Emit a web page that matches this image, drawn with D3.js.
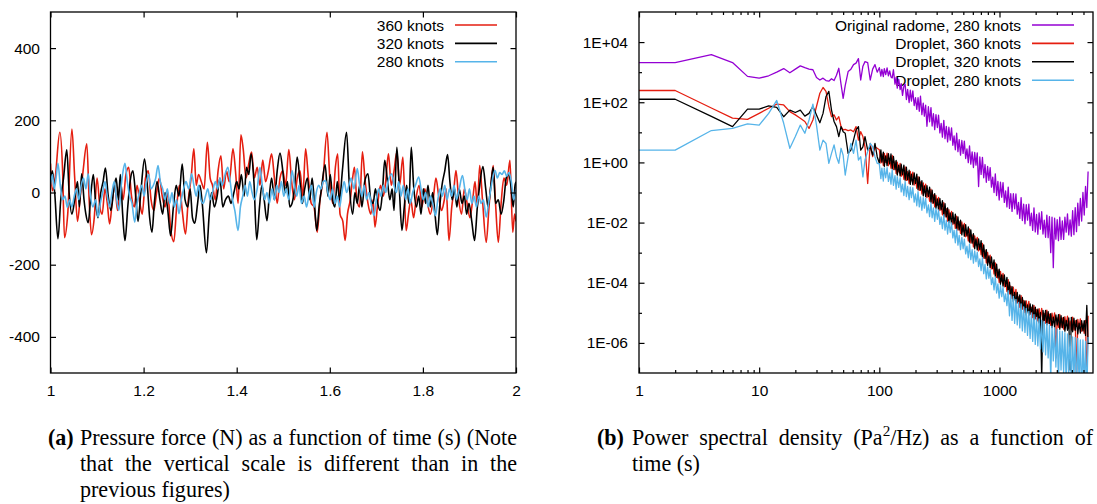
<!DOCTYPE html>
<html>
<head>
<meta charset="utf-8">
<script src="https://cdn.jsdelivr.net/npm/d3@7"></script>
<style>
body { margin: 0; background: #fff; }
svg text { font-family: "Liberation Sans", Arial, sans-serif; }
.tick text { font-size: 15.5px; fill: #000; }
.legend text { font-size: 15.5px; }
svg .cap text { font-family: "Liberation Serif", "Times New Roman", serif; font-size: 22.5px; }
</style>
</head>
<body>
<svg id="fig" width="1097" height="504"></svg>
<script>
// (a) pressure force vs time, [t (s), force (N)]
const force360 = [[1.000,80],[1.004,5],[1.010,40],[1.020,167],[1.026,60],[1.030,-125],[1.037,-60],[1.046,176],[1.052,40],[1.058,-80],[1.064,-10],[1.070,60],[1.078,135],[1.083,-20],[1.088,-117],[1.094,-70],[1.100,40],[1.106,-40],[1.111,-60],[1.117,10],[1.122,-30],[1.127,-87],[1.133,-20],[1.138,20],[1.144,-50],[1.150,30],[1.156,-20],[1.162,50],[1.168,70],[1.174,-10],[1.180,-40],[1.186,20],[1.192,-30],[1.197,-60],[1.204,40],[1.210,60],[1.216,-20],[1.222,-50],[1.228,0],[1.234,40],[1.240,-10],[1.246,-40],[1.252,0],[1.258,-100],[1.265,-136],[1.271,-40],[1.277,20],[1.283,-50],[1.290,-115],[1.296,-20],[1.302,40],[1.308,121],[1.313,20],[1.318,50],[1.324,30],[1.330,10],[1.337,139],[1.343,40],[1.348,20],[1.354,-20],[1.360,60],[1.366,102],[1.372,10],[1.378,60],[1.384,30],[1.392,121],[1.398,50],[1.403,-30],[1.409,160],[1.414,120],[1.420,40],[1.426,80],[1.432,112],[1.438,40],[1.444,70],[1.450,20],[1.456,90],[1.462,30],[1.468,60],[1.475,107],[1.481,40],[1.487,-30],[1.493,40],[1.499,60],[1.505,20],[1.512,119],[1.518,30],[1.524,-20],[1.530,40],[1.536,60],[1.542,-10],[1.548,121],[1.554,40],[1.560,-30],[1.566,-40],[1.573,-110],[1.579,-20],[1.585,30],[1.594,167],[1.600,40],[1.606,-30],[1.612,70],[1.617,107],[1.622,-60],[1.628,-80],[1.633,-133],[1.638,-60],[1.644,-20],[1.649,40],[1.653,70],[1.658,-20],[1.664,-40],[1.670,113],[1.676,30],[1.682,-30],[1.688,-60],[1.693,-20],[1.697,-96],[1.703,-30],[1.709,20],[1.715,-10],[1.720,30],[1.726,107],[1.732,20],[1.738,60],[1.744,112],[1.750,20],[1.757,98],[1.764,-106],[1.769,-60],[1.774,-20],[1.780,-70],[1.786,-10],[1.792,20],[1.798,-40],[1.804,10],[1.810,-30],[1.816,-60],[1.822,-20],[1.828,40],[1.834,-10],[1.840,-50],[1.846,-20],[1.850,10],[1.856,-133],[1.862,-40],[1.866,0],[1.871,61],[1.877,-20],[1.883,-60],[1.889,10],[1.895,-30],[1.901,-70],[1.907,-20],[1.912,30],[1.917,-40],[1.922,75],[1.928,-20],[1.936,-138],[1.942,-40],[1.946,20],[1.951,75],[1.956,-30],[1.962,-138],[1.968,-30],[1.974,40],[1.980,20],[1.987,89],[1.993,-110],[1.997,-60],[2.000,-80]];

const force320 = [[1.000,30],[1.004,60],[1.009,0],[1.016,-128],[1.022,-20],[1.028,40],[1.035,118],[1.040,0],[1.046,-60],[1.052,-20],[1.058,30],[1.062,-40],[1.067,52],[1.072,-20],[1.076,-60],[1.081,-84],[1.087,0],[1.092,50],[1.097,-30],[1.102,-70],[1.108,0],[1.113,30],[1.118,68],[1.124,-10],[1.130,-50],[1.136,10],[1.141,40],[1.146,-20],[1.150,50],[1.155,-60],[1.160,-133],[1.166,-40],[1.171,30],[1.177,60],[1.183,-10],[1.188,-80],[1.194,0],[1.202,93],[1.208,20],[1.213,-70],[1.218,-110],[1.223,-30],[1.229,30],[1.235,-20],[1.241,-60],[1.246,0],[1.252,-50],[1.258,-120],[1.264,-40],[1.270,20],[1.276,-10],[1.283,79],[1.289,-20],[1.295,-40],[1.300,10],[1.305,-70],[1.310,-85],[1.316,-30],[1.321,20],[1.326,-30],[1.335,-167],[1.341,-60],[1.346,0],[1.352,-40],[1.358,-10],[1.364,40],[1.370,-40],[1.376,-20],[1.382,-10],[1.388,-30],[1.394,0],[1.400,30],[1.405,10],[1.410,50],[1.416,-10],[1.421,70],[1.426,50],[1.431,107],[1.437,30],[1.443,-131],[1.449,-40],[1.454,20],[1.459,-20],[1.465,-78],[1.470,-10],[1.475,40],[1.481,-20],[1.487,60],[1.493,109],[1.499,60],[1.504,0],[1.509,30],[1.514,-40],[1.519,-30],[1.524,10],[1.530,98],[1.536,30],[1.541,-30],[1.546,10],[1.552,40],[1.557,-20],[1.562,40],[1.567,-30],[1.572,-105],[1.577,-40],[1.582,10],[1.590,77],[1.596,-10],[1.601,50],[1.606,-20],[1.611,-40],[1.616,30],[1.621,-20],[1.627,60],[1.636,167],[1.642,20],[1.649,-60],[1.654,0],[1.659,-30],[1.664,20],[1.669,-40],[1.675,30],[1.682,52],[1.688,-20],[1.693,-30],[1.698,10],[1.703,-30],[1.708,-50],[1.713,0],[1.718,89],[1.724,30],[1.729,-20],[1.734,10],[1.738,-50],[1.744,125],[1.749,20],[1.755,-105],[1.760,-40],[1.765,20],[1.770,-30],[1.775,125],[1.780,20],[1.786,-40],[1.791,-10],[1.796,-60],[1.801,10],[1.806,-30],[1.811,20],[1.816,-40],[1.821,0],[1.826,-60],[1.831,-117],[1.836,-40],[1.841,20],[1.847,60],[1.853,105],[1.858,30],[1.863,-20],[1.868,10],[1.873,-40],[1.878,10],[1.884,-30],[1.889,-10],[1.894,-60],[1.899,-30],[1.905,-80],[1.911,-133],[1.917,-40],[1.922,20],[1.929,72],[1.935,10],[1.940,-40],[1.946,20],[1.951,70],[1.956,-30],[1.962,-20],[1.968,-60],[1.974,-20],[1.979,40],[1.984,50],[1.989,20],[1.994,-40],[1.998,20],[2.000,30]];

const force280 = [[1.000,20],[1.004,50],[1.008,10],[1.012,40],[1.016,81],[1.021,20],[1.026,-20],[1.031,-10],[1.036,-41],[1.041,-20],[1.046,-40],[1.051,-10],[1.056,10],[1.061,-20],[1.066,20],[1.071,40],[1.076,10],[1.081,52],[1.086,-10],[1.091,-40],[1.097,-20],[1.102,-68],[1.107,-30],[1.112,0],[1.117,30],[1.122,-10],[1.127,-40],[1.132,0],[1.137,30],[1.142,-20],[1.147,-50],[1.152,20],[1.156,60],[1.160,81],[1.165,30],[1.170,-10],[1.175,-30],[1.181,-82],[1.186,-30],[1.191,0],[1.196,20],[1.201,-10],[1.206,30],[1.211,50],[1.216,10],[1.221,20],[1.226,40],[1.231,75],[1.236,30],[1.241,10],[1.246,-20],[1.251,10],[1.256,-30],[1.261,0],[1.266,-40],[1.271,-20],[1.276,-59],[1.281,-20],[1.286,10],[1.291,30],[1.297,10],[1.303,52],[1.308,20],[1.313,-10],[1.318,20],[1.323,-20],[1.328,-30],[1.333,-10],[1.338,10],[1.343,-20],[1.348,0],[1.354,30],[1.359,10],[1.364,40],[1.369,20],[1.375,50],[1.381,70],[1.386,30],[1.391,-20],[1.396,-50],[1.403,-105],[1.408,-40],[1.413,-10],[1.418,20],[1.423,-10],[1.428,30],[1.433,0],[1.438,-20],[1.444,10],[1.450,70],[1.455,20],[1.460,-20],[1.465,0],[1.470,-30],[1.476,10],[1.481,-20],[1.486,20],[1.491,0],[1.496,30],[1.501,-10],[1.506,10],[1.512,-20],[1.519,61],[1.524,20],[1.529,-10],[1.534,20],[1.539,-30],[1.545,-10],[1.550,-40],[1.556,0],[1.561,20],[1.566,-41],[1.571,0],[1.576,20],[1.581,10],[1.586,30],[1.591,33],[1.596,0],[1.601,-20],[1.606,10],[1.611,-30],[1.616,-10],[1.621,-40],[1.626,0],[1.631,30],[1.636,0],[1.641,20],[1.646,40],[1.652,10],[1.659,66],[1.664,20],[1.669,-10],[1.674,20],[1.679,-20],[1.684,0],[1.690,-40],[1.695,-64],[1.700,-20],[1.705,10],[1.710,-10],[1.715,20],[1.720,0],[1.725,30],[1.733,52],[1.738,20],[1.743,0],[1.748,30],[1.753,-10],[1.758,20],[1.763,-20],[1.768,10],[1.773,-30],[1.778,0],[1.784,20],[1.791,43],[1.796,10],[1.801,-20],[1.806,0],[1.811,-40],[1.816,-10],[1.821,-30],[1.827,-64],[1.832,-20],[1.837,10],[1.842,-10],[1.847,20],[1.852,-20],[1.857,10],[1.862,-10],[1.867,20],[1.872,-20],[1.878,10],[1.885,47],[1.890,10],[1.895,-20],[1.900,10],[1.905,-30],[1.910,-10],[1.915,-40],[1.920,-10],[1.925,-30],[1.930,-20],[1.936,-68],[1.941,-30],[1.946,10],[1.950,40],[1.955,61],[1.960,40],[1.965,55],[1.970,50],[1.975,60],[1.980,45],[1.985,55],[1.990,30],[1.995,-20],[2.000,10]];

const forceLabels = ["360 knots", "320 knots", "280 knots"];
const forceTicksX = [1, 1.2, 1.4, 1.6, 1.8, 2];
const forceTicksY = [-400, -200, 0, 200, 400];

// (b) power spectral density: frequency (Hz), PSD read as powers of ten (Pa^2/Hz = 10^v)
const psdFreq = [1,2,4,6,8,10,12,14,16,18,20,22,24,26,28,30,32,34,36,38,40,42,44,46,48,50,52,55,58,61,64,67,70,73,76,80,84,88,92,96,
  100,103,105,108,110,113,116,119,122,125, 128,131,135,138,141,145,149,152,156,160, 164,168,172,177,181,185,190,195,200,205,
  210,215,220,226,232,237,243,249,256,262, 269,275,282,289,296,304,311,319,327,335, 344,352,361,370,379,389,399,409,419,429,
  440,451,462,474,486,498,510,523,536,550, 563,577,592,607,622,637,653,670,686,703, 721,739,758,777,796,816,836,857,879,901,
  923,946,970,994,1019,1044,1070,1097,1125,1153, 1182,1211,1241,1272,1304,1337,1370,1405,1440,1476, 1513,1550,1589,1629,1670,1711,1754,1798,1843,1889,
  1936,1985,2034,2085,2137,2191,2245,2301,2359,2418, 2478,2540,2604,2669,2736,2804,2874,2946,3020,3095, 3173,3252,3333,3417,3502,3590,3679,3771,3866,3962,
  4061,4163,4267,4373,4483,4595,4710,4827,4948,5072, 5199,5329,5462];

const psdRadome280 = [3.32,3.32,3.58,3.32,2.86,2.8,2.88,3.0,3.12,2.98,3.1,3.21,3.15,3.1,3.08,2.82,2.74,2.8,2.72,2.7,2.78,2.72,2.9,3.13,2.6,2.13,2.55,3.02,3.1,3.25,3.3,3.45,2.74,3.2,3.35,3.32,2.74,3.1,3.25,3.0,
  3.15,2.87,3.09,2.85,3.12,2.92,3.14,2.88,3.04,2.84, 2.81,3.08,2.6,2.83,2.47,2.76,2.42,2.62,2.23,2.53, 2.6,2.09,2.43,1.99,2.4,2.04,2.38,1.89,2.15,1.76,
  2.15,1.7,2.2,1.59,1.97,1.54,1.9,1.2,1.85,1.35, 1.82,1.21,1.62,1.09,1.59,1.16,1.57,0.98,1.3,0.84, 1.4,0.79,1.2,0.68,1.17,0.74,1.15,0.57,0.88,0.42,
  0.97,0.36,0.76,0.24,0.73,0.3,0.71,0.13,0.45,-0.01, 0.55,-0.06,0.35,-0.17,0.33,-0.09,0.32,-0.8,0.18,-0.4, 0.17,-0.51,-0.07,-0.66,-0.13,-0.6,-0.17,-0.82,-0.49,-1.0,
  -0.38,-1.1,-0.63,-1.25,-0.66,-1.16,-0.67,-1.33,-0.95,-1.48, -0.82,-1.53,-1.04,-1.63,-1.04,-1.54,-1.05,-1.72,-1.33,-1.86, -1.17,-1.93,-1.39,-2.04,-1.4,-1.92,-1.39,-2.1,-1.69,-2.26,
  -1.51,-2.31,-1.73,-2.39,-1.68,-2.22,-1.64,-2.38,-1.92,-2.49, -1.75,-2.5,-1.8,-3.0,-1.82,-3.5,-1.85,-2.55,-1.9,-2.6, -1.82,-2.56,-1.94,-2.56,-1.82,-2.32,-1.71,-2.41,-1.91,-2.45,
  -1.6,-2.4,-1.5,-2.3,-1.35,-2.1,-1.2,-1.95,-1.0,-1.75, -0.8,-1.5,-0.3];

const psdDrop360 = [2.39,2.39,1.81,1.47,1.43,1.63,1.8,1.94,1.91,1.69,1.58,1.47,1.36,1.13,1.41,1.86,2.3,2.49,2.36,1.86,1.52,1.58,1.41,1.52,1.19,1.08,1.1,1.06,1.08,1.02,1.19,0.74,1.02,0.86,0.52,-0.7,0.63,0.19,0.52,0.47,
  0.42,-0.02,0.28,-0.1,0.3,0.0,0.31,-0.11,0.13,-0.19, 0.23,-0.24,0.03,-0.37,0.01,-0.31,-0.03,-0.46,-0.23,-0.56, -0.15,-0.6,-0.31,-0.7,-0.3,-0.61,-0.32,-0.75,-0.52,-0.86,
  -0.47,-0.93,-0.65,-1.05,-0.68,-1.0,-0.72,-1.17,-0.95,-1.29, -0.89,-1.36,-1.08,-1.48,-1.1,-1.43,-1.16,-1.6,-1.39,-1.74, -1.34,-1.81,-1.54,-1.95,-1.57,-1.9,-1.63,-2.07,-1.85,-2.19,
  -1.79,-2.25,-1.97,-2.36,-1.98,-2.3,-2.03,-2.47,-2.26,-2.61, -2.21,-2.68,-2.41,-2.81,-2.44,-2.76,-2.49,-2.94,-2.72,-3.07, -2.69,-3.18,-2.92,-3.34,-2.99,-3.33,-3.08,-3.54,-3.35,-3.71,
  -3.34,-3.82,-3.57,-3.99,-3.62,-3.96,-3.69,-4.14,-3.94,-4.29, -3.9,-4.37,-4.11,-4.52,-4.15,-4.49,-4.22,-4.67,-4.47,-4.82, -4.43,-4.88,-4.59,-4.99,-4.6,-4.91,-4.62,-5.05,-4.82,-5.16,
  -4.75,-5.2,-4.89,-5.27,-4.86,-5.16,-4.85,-5.27,-5.02,-5.34, -4.91,-5.35,-5.04,-5.42,-5.01,-5.31,-5.0,-6.5,-5.17,-5.48, -5.05,-5.48,-5.17,-5.54,-5.13,-5.42,-5.11,-5.52,-5.27,-5.57,
  -5.14,-5.57,-5.26,-7.3,-5.22,-5.51,-5.2,-5.61,-5.37,-5.68, -5.25,-7.5,-5.1];

const psdDrop320 = [2.1,2.1,1.53,1.19,1.77,1.77,1.88,1.83,1.52,1.74,1.66,1.74,1.54,1.63,1.86,1.58,1.32,1.63,2.19,2.36,1.74,1.36,1.19,0.86,1.19,1.02,0.97,0.3,0.41,0.74,1.08,1.19,0.41,0.52,0.86,0.41,0.52,0.24,0.63,0.19,
  -0.02,0.42,0.01,0.34,-0.13,0.22,-0.11,0.29,-0.05,0.28, -0.21,0.2,-0.24,0.07,-0.42,-0.09,-0.45,-0.06,-0.41,-0.09, -0.59,-0.16,-0.58,-0.26,-0.73,-0.39,-0.74,-0.35,-0.7,-0.39,
  -0.91,-0.49,-0.92,-0.61,-1.11,-0.78,-1.14,-0.77,-1.13,-0.82, -1.33,-0.92,-1.35,-1.04,-1.53,-1.21,-1.58,-1.2,-1.57,-1.27, -1.78,-1.37,-1.81,-1.51,-2.0,-1.68,-2.05,-1.67,-2.03,-1.72,
  -2.23,-1.81,-2.24,-1.92,-2.41,-2.08,-2.45,-2.07,-2.44,-2.14, -2.65,-2.24,-2.68,-2.37,-2.87,-2.54,-2.91,-2.54,-2.9,-2.6, -3.13,-2.74,-3.19,-2.9,-3.42,-3.11,-3.5,-3.14,-3.53,-3.24,
  -3.78,-3.38,-3.84,-3.55,-4.05,-3.74,-4.11,-3.74,-4.12,-3.82, -4.39,-3.98,-4.43,-4.13,-4.63,-4.32,-4.69,-4.32,-4.7,-4.4, -4.92,-4.49,-4.91,-4.6,-5.08,-4.74,-5.09,-4.7,-5.05,-4.74,
  -5.24,-4.81,-5.21,-4.88,-5.34,-4.99,-7.2,-4.92,-5.25,-4.92, -5.4,-4.96,-5.36,-5.03,-5.49,-5.14,-5.47,-5.07,-5.4,-5.06, -5.54,-5.09,-5.49,-5.15,-5.61,-5.25,-5.58,-5.17,-6.9,-5.15,
  -5.63,-5.18,-5.58,-5.24,-5.7,-5.34,-5.67,-5.26,-5.6,-5.26, -5.75,-4.75,-6.0];

const psdDrop280 = [0.41,0.41,1.06,1.13,1.28,1.24,1.63,2.06,1.3,0.47,0.86,1.24,0.97,1.41,1.94,1.24,0.41,0.74,0.63,-0.03,0.3,0.58,0.19,-0.03,0.47,0.24,-0.42,0.19,0.63,0.3,0.74,0.08,0.19,-0.48,0.08,0.36,0.63,0.52,0.19,-0.03,
  -0.05,-0.54,-0.19,-0.62,-0.18,-0.51,-0.17,-0.63,-0.35,-0.72, -0.24,-0.76,-0.44,-0.89,-0.47,-0.83,-0.51,-0.98,-0.72,-1.1, -0.63,-1.14,-0.8,-1.24,-0.82,-1.17,-0.84,-1.32,-1.05,-1.44,
  -0.97,-1.48,-1.15,-1.59,-1.17,-1.52,-1.2,-1.68,-1.41,-1.8, -1.34,-1.84,-1.51,-1.96,-1.53,-1.89,-1.58,-2.06,-1.81,-2.2, -1.74,-2.25,-1.93,-2.38,-1.96,-2.33,-2.01,-2.51,-2.26,-2.67,
  -2.22,-2.75,-2.43,-2.9,-2.49,-2.87,-2.55,-3.04,-2.78,-3.17, -2.71,-3.23,-2.9,-3.35,-2.94,-3.3,-2.98,-3.46,-3.21,-3.6, -3.16,-3.7,-3.39,-3.87,-3.47,-3.85,-3.56,-4.06,-3.83,-4.24,
  -3.81,-4.34,-4.04,-4.51,-4.09,-4.46,-4.14,-4.63,-4.37,-4.76, -4.26,-5.1,-4.4,-5.25,-4.45,-5.35,-4.55,-5.4,-4.65,-5.5, -4.7,-5.6,-4.8,-5.65,-4.85,-5.75,-4.95,-5.85,-5.0,-5.95,
  -5.06,-6.05,-5.15,-6.1,-5.2,-6.2,-5.25,-6.3,-5.3,-6.4, -5.35,-6.5,-5.4,-7.2,-5.45,-6.6,-5.5,-6.8,-5.55,-7.3, -5.6,-6.9,-5.62,-7.0,-5.66,-7.4,-5.7,-7.1,-5.75,-7.5,
  -5.8,-7.2,-5.82,-7.6,-5.85,-7.3,-5.9,-7.8,-5.9,-7.5, -5.95,-7.8,-5.8];

const psdLabels = ["Original radome, 280 knots", "Droplet, 360 knots", "Droplet, 320 knots", "Droplet, 280 knots"];
const psdTicksX = [1, 10, 100, 1000];
const psdTicksY = [1e-6, 1e-4, 1e-2, 1e0, 1e2, 1e4];

const red = "#e51e10", black = "#000000", blue = "#56b4e9", purple = "#9400d3";

const svg = d3.select("#fig");

function frameAxes(g, x, y, opt){
    // gnuplot style: ticks inward on all four sides, labels left and bottom only
    g.append("g").attr("class", "axis")
        .attr("transform", `translate(0,${opt.bottom})`)
        .call(d3.axisBottom(x).tickValues(opt.xt).tickFormat(opt.xf).tickSizeInner(-5.5).tickSizeOuter(0).tickPadding(12));
    g.append("g").attr("class", "axis")
        .attr("transform", `translate(0,${opt.top})`)
        .call(d3.axisTop(x).tickValues(opt.xt).tickFormat("").tickSizeInner(-5.5).tickSizeOuter(0));
    g.append("g").attr("class", "axis")
        .attr("transform", `translate(${opt.left},0)`)
        .call(d3.axisLeft(y).tickValues(opt.yt).tickFormat(opt.yf).tickSizeInner(-5.5).tickSizeOuter(0).tickPadding(opt.ypad));
    g.append("g").attr("class", "axis")
        .attr("transform", `translate(${opt.right},0)`)
        .call(d3.axisRight(y).tickValues(opt.yt).tickFormat("").tickSizeInner(-5.5).tickSizeOuter(0));
    if(opt.xm){
        g.append("g").attr("class", "axis").attr("transform", `translate(0,${opt.bottom})`)
            .call(d3.axisBottom(x).tickValues(opt.xm).tickFormat("").tickSizeInner(-3).tickSizeOuter(0));
        g.append("g").attr("class", "axis").attr("transform", `translate(0,${opt.top})`)
            .call(d3.axisTop(x).tickValues(opt.xm).tickFormat("").tickSizeInner(-3).tickSizeOuter(0));
    }
    if(opt.ym){
        g.append("g").attr("class", "axis").attr("transform", `translate(${opt.left},0)`)
            .call(d3.axisLeft(y).tickValues(opt.ym).tickFormat("").tickSizeInner(-3).tickSizeOuter(0));
        g.append("g").attr("class", "axis").attr("transform", `translate(${opt.right},0)`)
            .call(d3.axisRight(y).tickValues(opt.ym).tickFormat("").tickSizeInner(-3).tickSizeOuter(0));
    }
    g.selectAll(".axis .domain").remove();
    g.selectAll(".axis line").attr("stroke", "#000").attr("stroke-width", 1.2);
    g.append("rect")
        .attr("x", opt.left).attr("y", opt.top)
        .attr("width", opt.right - opt.left).attr("height", opt.bottom - opt.top)
        .attr("fill", "none").attr("stroke", "#000").attr("stroke-width", 1.3);
}

function legend(g, labels, colors, textX, y0){
    const lg = g.append("g").attr("class", "legend");
    labels.forEach((lab, i) => {
        const y = y0 + i * 18.4;
        lg.append("text").attr("x", textX).attr("y", y + 5.5)
            .attr("text-anchor", "end").text(lab);
        lg.append("line").attr("x1", textX + 11).attr("x2", textX + 53)
            .attr("y1", y).attr("y2", y)
            .attr("stroke", colors[i]).attr("stroke-width", 1.6);
    });
}

// panel (a)
const pa = {left: 50.5, right: 516, top: 12, bottom: 373};
const xA = d3.scaleLinear().domain([1, 2]).range([pa.left, pa.right]);
const yA = d3.scaleLinear().domain([-500, 500]).range([pa.bottom, pa.top]);
const gA = svg.append("g");
gA.append("clipPath").attr("id", "clipA").append("rect")
    .attr("x", pa.left).attr("y", pa.top).attr("width", pa.right - pa.left).attr("height", pa.bottom - pa.top);

const lineA = d3.line().x(d => xA(d[0])).y(d => yA(d[1])).curve(d3.curveMonotoneX);
[[force360, red], [force320, black], [force280, blue]].forEach(([s, c]) => {
    gA.append("path").datum(s).attr("d", lineA)
        .attr("clip-path", "url(#clipA)")
        .attr("fill", "none").attr("stroke", c).attr("stroke-width", 1.6).attr("stroke-linejoin", "round");
});
frameAxes(gA, xA, yA, Object.assign({}, pa, {
    xt: forceTicksX, xf: d3.format("~g"), yt: forceTicksY, yf: d => d, ypad: 10.5
}));
legend(gA, forceLabels, [red, black, blue], 444, 25);

// panel (b)
const pb = {left: 639, right: 1093, top: 12, bottom: 373};
const xB = d3.scaleLog().domain([1, 6000]).range([pb.left, pb.right]);
const yB = d3.scaleLog().domain([1e-7, 1e5]).range([pb.bottom, pb.top]);
const gB = svg.append("g");
gB.append("clipPath").attr("id", "clipB").append("rect")
    .attr("x", pb.left).attr("y", pb.top).attr("width", pb.right - pb.left).attr("height", pb.bottom - pb.top);

// key goes under the curves here, as in the original
legend(gB, psdLabels, [purple, red, black, blue], 1021, 25);

const lineB = d3.line().x((d, i) => xB(psdFreq[i])).y(d => yB(Math.pow(10, d)));
[[psdRadome280, purple], [psdDrop360, red], [psdDrop320, black], [psdDrop280, blue]].forEach(([s, c]) => {
    gB.append("path").datum(s).attr("d", lineB)
        .attr("clip-path", "url(#clipB)")
        .attr("fill", "none").attr("stroke", c).attr("stroke-width", 1.3).attr("stroke-linejoin", "round");
});

const minorX = [];
[1, 10, 100, 1000].forEach(dec => { for(let k = 2; k <= 9; k++){ if(dec * k < 6000) minorX.push(dec * k); } });
const minorY = [1e-5, 1e-3, 1e-1, 1e1, 1e3];
const fmtE = d => {
    const e = Math.round(Math.log10(d));
    return "1E" + (e < 0 ? "-" : "+") + String(Math.abs(e)).padStart(2, "0");
};
frameAxes(gB, xB, yB, Object.assign({}, pb, {
    xt: psdTicksX, xf: d => d, yt: psdTicksY, yf: fmtE, ypad: 11, xm: minorX, ym: minorY
}));

// captions, LaTeX-like: justified lines get wider word spacing
const cap = svg.append("g").attr("class", "cap");
const sx = 0.98;
function capLine(x, y, parts, width, bold){
    const t = cap.append("text").attr("transform", `translate(${x},${y}) scale(${sx},1)`);
    if(bold) t.attr("font-weight", "bold");
    parts.forEach(p => {
        const ts = t.append("tspan").text(p.s);
        if(p.sup) ts.attr("dy", -9).attr("font-size", "15.5px");
        if(p.down) ts.attr("dy", 9);
    });
    if(width){
        const nat = t.node().getComputedTextLength();
        const gaps = parts.map(p => p.s).join("").split(" ").length - 1;
        t.style("word-spacing", Math.max(0, (width / sx - nat) / gaps) + "px");
    }
    return t;
}
capLine(48, 445, [{s: "(a)"}], 0, true);
capLine(80, 445, [{s: "Pressure force (N) as a function of time (s) (Note"}], 437);
capLine(80, 471, [{s: "that the vertical scale is different than in the"}], 437);
capLine(80, 497, [{s: "previous figures)"}]);

capLine(597, 445, [{s: "(b)"}], 0, true);
capLine(632, 445, [{s: "Power spectral density (Pa"}, {s: "2", sup: true}, {s: "/Hz) as a function of", down: true}], 461);
capLine(632, 471, [{s: "time (s)"}]);
</script>
</body>
</html>
